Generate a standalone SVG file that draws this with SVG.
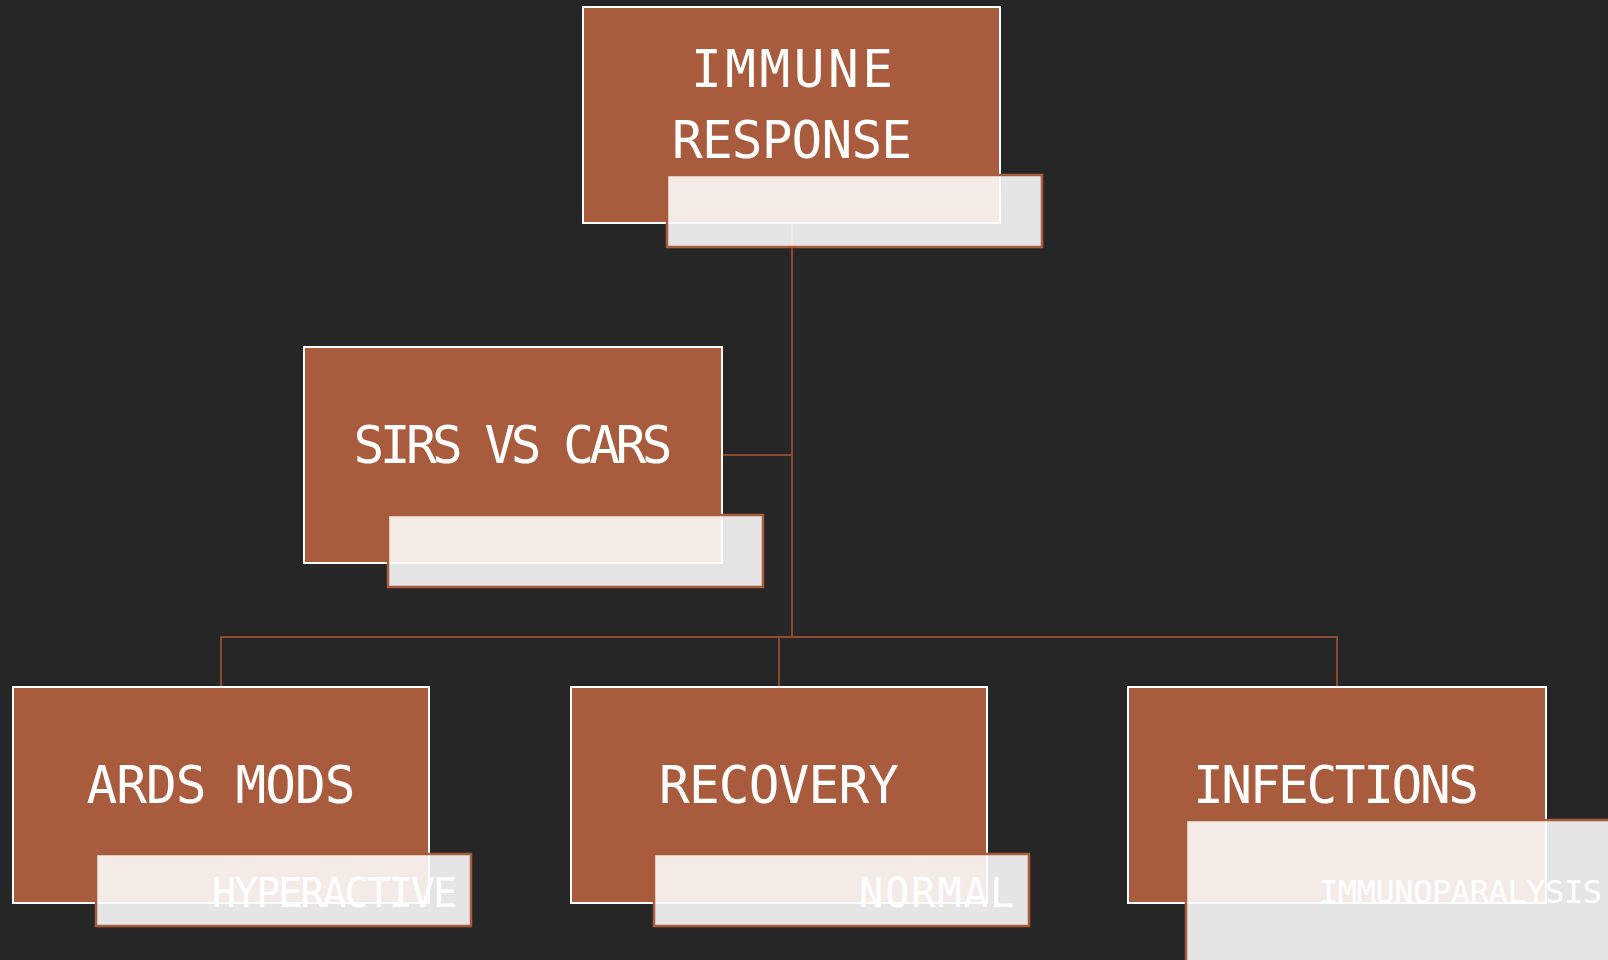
<svg xmlns="http://www.w3.org/2000/svg" width="1608" height="960" viewBox="0 0 1608 960">
  <style>
    .node { fill: #a85c3d; stroke: #ffffff; stroke-width: 2; }
    .tag { fill: #fdfdfd; fill-opacity: 0.89; stroke: #a85c3d; stroke-width: 2.5; }
    .title { font-family: "DejaVu Sans Mono", "Liberation Mono", monospace; font-size: 51px; fill: #ffffff; text-anchor: middle; }
    .sub { font-family: "DejaVu Sans Mono", "Liberation Mono", monospace; font-size: 40px; fill: #ffffff; text-anchor: end; }
    .link { fill: none; stroke: #8b4b31; stroke-width: 2; }
  </style>
  <rect x="0" y="0" width="1608" height="960" fill="#262626"/>

  <g id="connectors">
    <path class="link" d="M792 223 V637"/>
    <path class="link" d="M722 455 H792"/>
    <path class="link" d="M221 687 V637 H1337 V687"/>
    <path class="link" d="M779 637 V687"/>
  </g>

  <g id="immune-response">
    <rect class="node" x="583" y="7" width="417" height="216"/>
    <text class="title" x="792" y="87" textLength="202" lengthAdjust="spacing">IMMUNE</text>
    <text class="title" x="792" y="158" textLength="240" lengthAdjust="spacing">RESPONSE</text>
    <rect class="tag" x="667" y="175" width="375" height="72"/>
  </g>

  <g id="sirs-vs-cars">
    <rect class="node" x="304" y="347" width="418" height="216"/>
    <text class="title" x="513" y="463" textLength="319" lengthAdjust="spacing">SIRS VS CARS</text>
    <rect class="tag" x="388" y="515" width="375" height="72"/>
  </g>

  <g id="ards-mods">
    <rect class="node" x="13" y="687" width="416" height="216"/>
    <text class="title" x="221" y="803" textLength="269" lengthAdjust="spacing">ARDS MODS</text>
    <rect class="tag" x="96" y="854" width="375" height="72"/>
    <text class="sub" x="457" y="907" textLength="245" lengthAdjust="spacing">HYPERACTIVE</text>
  </g>

  <g id="recovery">
    <rect class="node" x="571" y="687" width="416" height="216"/>
    <text class="title" x="779" y="803" textLength="240" lengthAdjust="spacing">RECOVERY</text>
    <rect class="tag" x="654" y="854" width="375" height="72"/>
    <text class="sub" x="1014" y="907" textLength="155" lengthAdjust="spacing">NORMAL</text>
  </g>

  <g id="infections">
    <rect class="node" x="1128" y="687" width="418" height="216"/>
    <text class="title" x="1336" y="803" textLength="286" lengthAdjust="spacing">INFECTIONS</text>
    <rect class="tag" x="1186" y="820" width="440" height="160"/>
    <text class="sub" x="1602" y="903" style="font-size:32px" textLength="283" lengthAdjust="spacing">IMMUNOPARALYSIS</text>
  </g>
</svg>
